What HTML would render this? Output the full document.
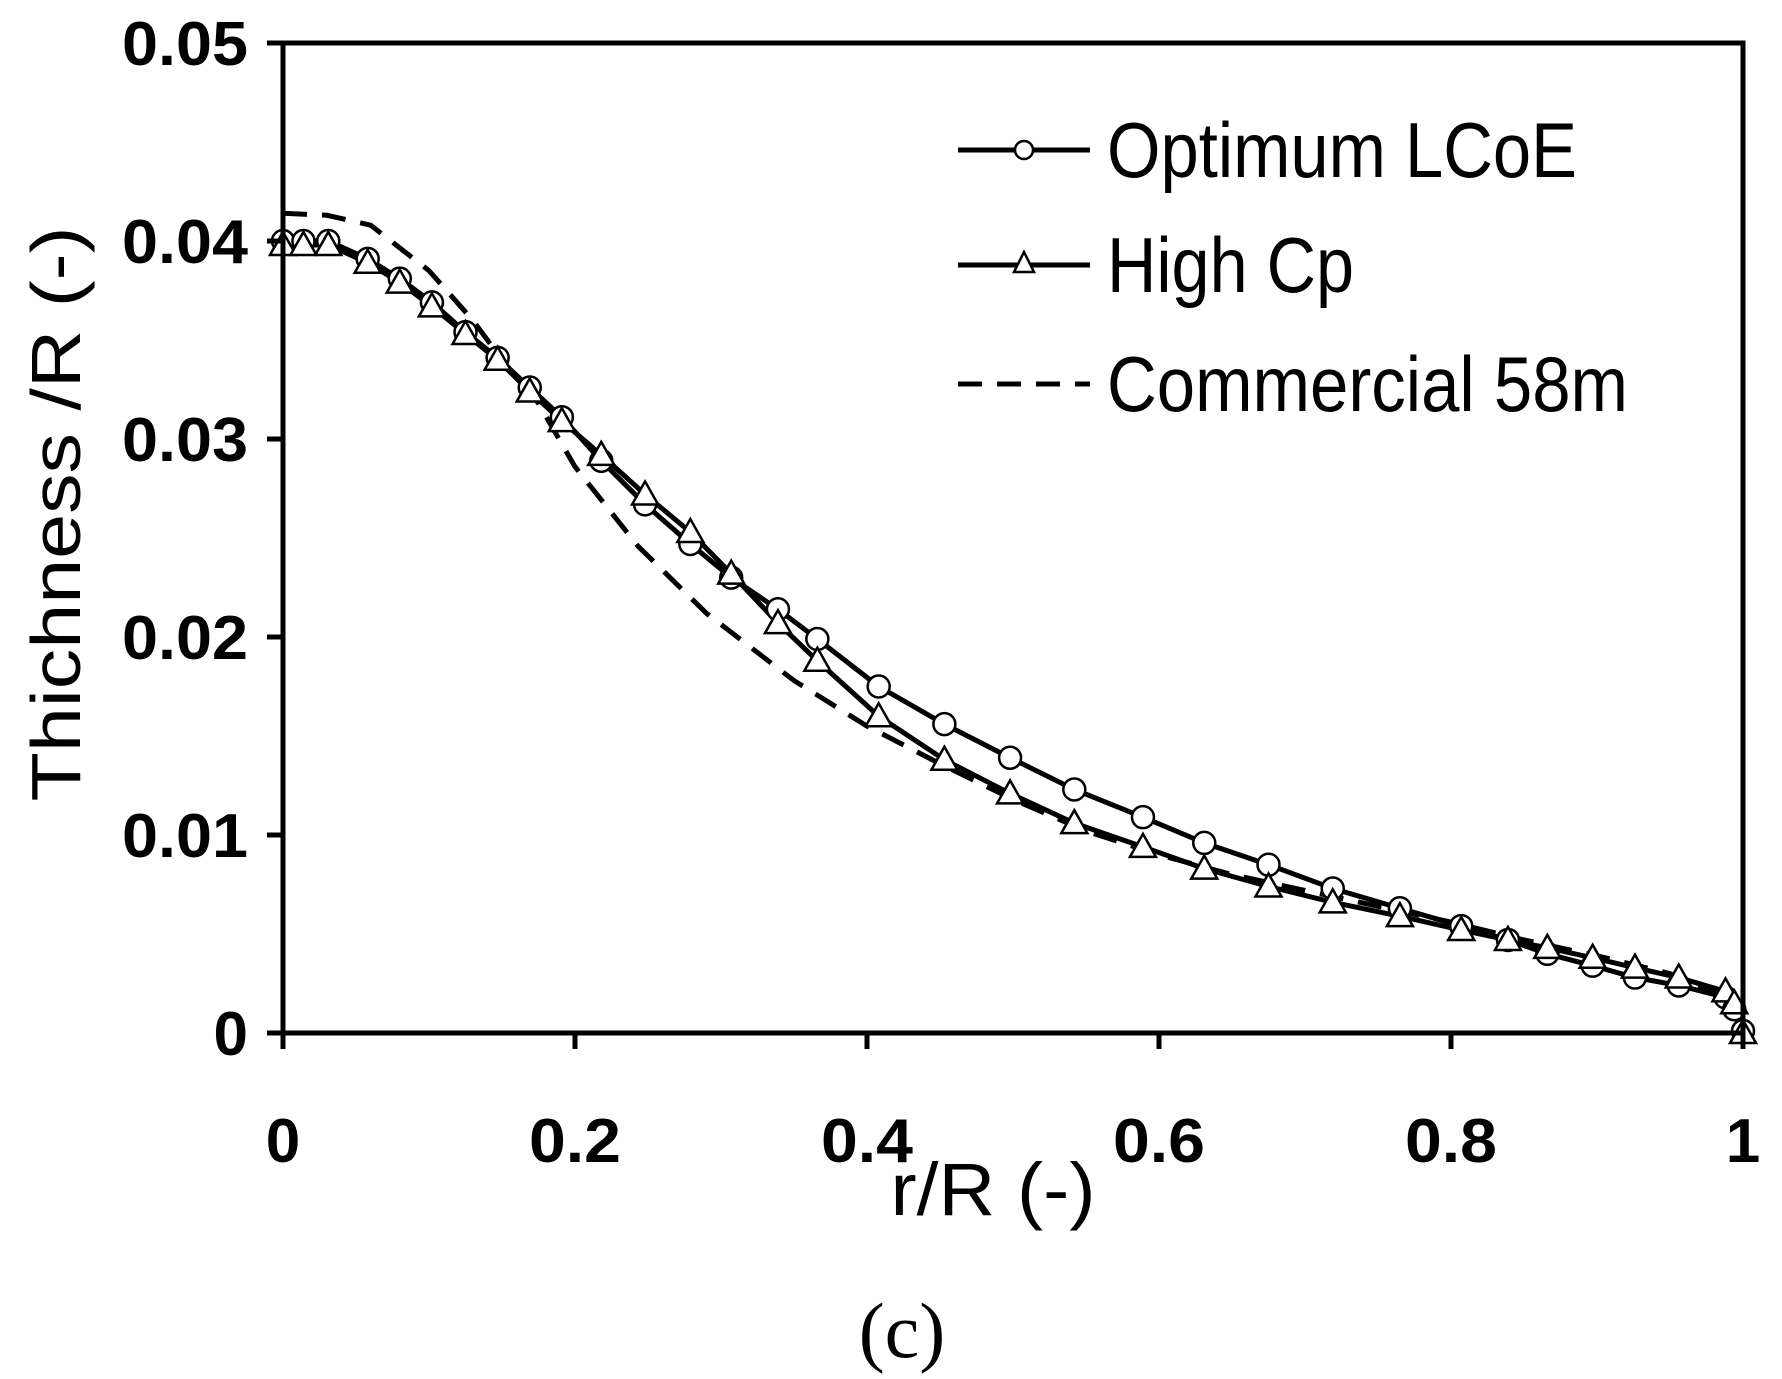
<!DOCTYPE html>
<html><head><meta charset="utf-8"><style>
html,body{margin:0;padding:0;background:#fff;}
svg{display:block;}
text{font-family:"Liberation Sans",sans-serif;fill:#000;}
</style></head><body>
<svg id="chart" width="1782" height="1379" viewBox="0 0 1782 1379" xmlns="http://www.w3.org/2000/svg">
<g id="plot"></g>
<g id="axes"></g>
<g id="legend">
  <g>
    <line x1="958" y1="150" x2="1090" y2="150" stroke="#000" stroke-width="5"/>
    <circle cx="1024" cy="150" r="9" fill="#fff" stroke="#000" stroke-width="2.5"/>
    <text x="1107" y="177" font-size="78" textLength="470" lengthAdjust="spacingAndGlyphs">Optimum LCoE</text>
  </g>
  <g>
    <line x1="958" y1="265" x2="1090" y2="265" stroke="#000" stroke-width="5"/>
    <polygon points="1024,252 1034,272 1014,272" fill="#fff" stroke="#000" stroke-width="2.5"/>
    <text x="1107" y="292" font-size="78" textLength="247" lengthAdjust="spacingAndGlyphs">High Cp</text>
  </g>
  <g>
    <line x1="958" y1="384" x2="1090" y2="384" stroke="#000" stroke-width="5" stroke-dasharray="24,15"/>
    <text x="1107" y="411" font-size="78" textLength="521" lengthAdjust="spacingAndGlyphs">Commercial 58m</text>
  </g>
</g>
<text x="993" y="1215" font-size="74" text-anchor="middle" textLength="205" lengthAdjust="spacingAndGlyphs">r/R (-)</text>
<text transform="translate(80,514) rotate(-90)" font-size="70" text-anchor="middle" textLength="575" lengthAdjust="spacingAndGlyphs">Thichness /R (-)</text>
<text x="902" y="1357" font-size="78" text-anchor="middle" style="font-family:'Liberation Serif',serif">(c)</text>
</svg>
<script>
const xTicks=[0,0.2,0.4,0.6,0.8,1];
const xTickLabels=["0","0.2","0.4","0.6","0.8","1"];
const yTicks=[0,0.01,0.02,0.03,0.04,0.05];
const yTickLabels=["0","0.01","0.02","0.03","0.04","0.05"];
const rOpt=[0,0.014,0.031,0.058,0.080,0.102,0.125,0.147,0.169,0.191,0.218,0.248,0.279,0.307,0.339,0.366,0.408,0.453,0.498,0.542,0.589,0.631,0.675,0.719,0.765,0.807,0.839,0.866,0.897,0.926,0.956,0.988,0.994,1.0];
const tOpt=[0.0400,0.0400,0.0400,0.0391,0.0381,0.0369,0.0354,0.0341,0.0326,0.0311,0.0289,0.0267,0.0247,0.0230,0.0214,0.0199,0.0175,0.0156,0.0139,0.0123,0.0109,0.0096,0.0085,0.0073,0.0063,0.0054,0.0047,0.0040,0.0034,0.0028,0.0024,0.0018,0.0012,0.0001];
const rCp=[0,0.014,0.031,0.058,0.080,0.102,0.125,0.147,0.169,0.191,0.218,0.248,0.279,0.307,0.339,0.366,0.408,0.453,0.498,0.542,0.589,0.631,0.675,0.719,0.765,0.807,0.839,0.866,0.897,0.926,0.956,0.988,0.994,1.0];
const tCp=[0.0398,0.0398,0.0398,0.0389,0.0379,0.0367,0.0353,0.0340,0.0324,0.0309,0.0292,0.0272,0.0253,0.0232,0.0207,0.0188,0.0160,0.0138,0.0121,0.0106,0.0094,0.0083,0.0074,0.0066,0.0059,0.0052,0.0047,0.0043,0.0038,0.0033,0.0028,0.0021,0.0015,0.0000];
const rCom=[0,0.03,0.06,0.1,0.13,0.15,0.175,0.2,0.243,0.29,0.35,0.4,0.45,0.5,0.55,0.6,0.65,0.7,0.75,0.8,0.85,0.9,0.95,1.0];
const tCom=[0.0414,0.0413,0.0408,0.0385,0.0360,0.0340,0.0318,0.0286,0.0246,0.0212,0.0178,0.0155,0.0136,0.0118,0.0102,0.0090,0.0080,0.0072,0.0064,0.0056,0.0047,0.0039,0.0030,0.0015];

const X0=283,X1=1743,Y0=1033,Y1=43;
function sx(v){return X0+(X1-X0)*v;}
function sy(v){return Y0-(Y0-Y1)*(v/0.05);}
const NS="http://www.w3.org/2000/svg";
function mk(tag,attrs,parent){const e=document.createElementNS(NS,tag);for(const k in attrs)e.setAttribute(k,attrs[k]);parent.appendChild(e);return e;}
const axes=document.getElementById('axes'),plot=document.getElementById('plot');

let sp=mk('polyline',{points:`${X0},${Y1} ${X0},${Y0} ${X1},${Y0} ${X1},${Y1} ${X0},${Y1}`,fill:'none',stroke:'#000','stroke-width':5},axes);


yTicks.forEach((v,i)=>{
  const t=mk('line',{x1:X0-16,x2:X0,y1:sy(v),y2:sy(v),stroke:'#000','stroke-width':5},axes);
  
  
  const attrs={x:X0-35,y:sy(v)+22,'font-size':62,'font-weight':'bold','text-anchor':'end'};
  if(yTickLabels[i].length>1){attrs.textLength=126;attrs.lengthAdjust='spacingAndGlyphs';}
  const l=mk('text',attrs,axes);
  l.textContent=yTickLabels[i];
  
  
});
xTicks.forEach((v,i)=>{
  const t=mk('line',{x1:sx(v),x2:sx(v),y1:Y0,y2:Y0+16,stroke:'#000','stroke-width':5},axes);
  
  
  const attrs={x:sx(v),y:1162,'font-size':62,'font-weight':'bold','text-anchor':'middle'};
  if(xTickLabels[i].length>1){attrs.textLength=92;attrs.lengthAdjust='spacingAndGlyphs';}
  const l=mk('text',attrs,axes);
  l.textContent=xTickLabels[i];
  
  
});
function pts(xs,ys){return xs.map((x,i)=>sx(x)+','+sy(ys[i])).join(' ');}
let lc=mk('polyline',{points:pts(rCom,tCom),fill:'none',stroke:'#000','stroke-width':5,'stroke-dasharray':'24,15'},plot);


let lo=mk('polyline',{points:pts(rOpt,tOpt),fill:'none',stroke:'#000','stroke-width':5},plot);


let lh=mk('polyline',{points:pts(rCp,tCp),fill:'none',stroke:'#000','stroke-width':5},plot);


rOpt.forEach((x,i)=>{
  const c=mk('circle',{cx:sx(x),cy:sy(tOpt[i]),r:11,fill:'#fff',stroke:'#000','stroke-width':2.5},plot);
  
  
});
rCp.forEach((x,i)=>{
  const cx=sx(x),cy=sy(tCp[i]);
  const p=mk('polygon',{points:`${cx},${cy-13} ${cx+13},${cy+10} ${cx-13},${cy+10}`,fill:'#fff',stroke:'#000','stroke-width':2.5},plot);
  
  
});
</script>
</body></html>
